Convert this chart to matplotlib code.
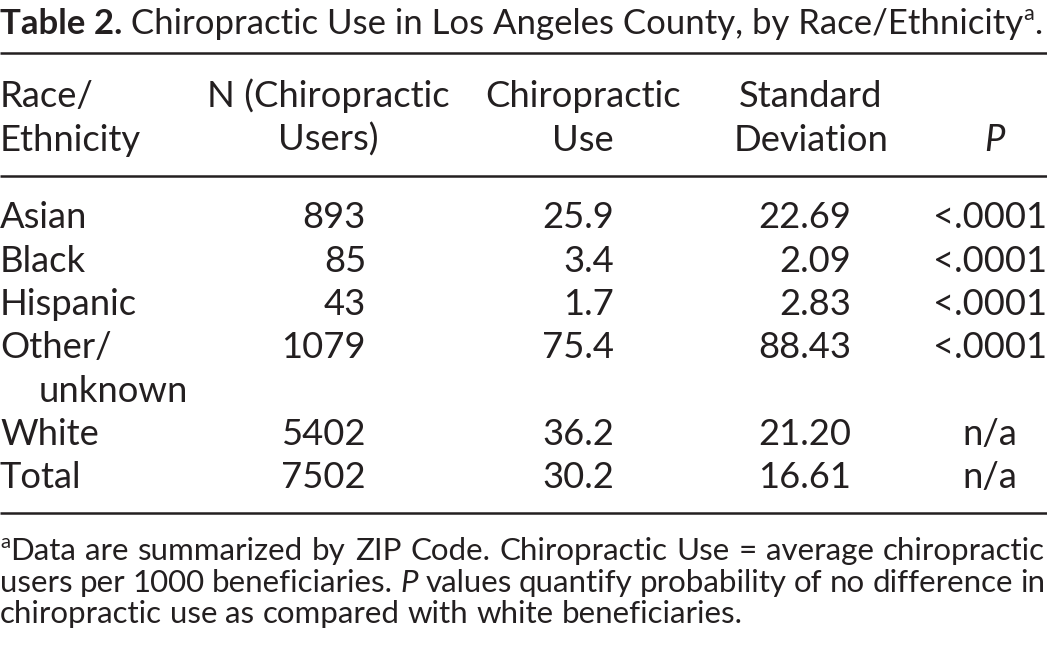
import matplotlib
matplotlib.use('Agg')
import matplotlib.pyplot as plt

# Table content
title_bold = 'Table 2.'
title_rest = ' Chiropractic Use in Los Angeles County, by Race/Ethnicity'
headers = [['Race/', 'Ethnicity'], ['N (Chiropractic', 'Users)'], ['Chiropractic', 'Use'],
           ['Standard', 'Deviation'], ['P']]
groups = [['Asian'], ['Black'], ['Hispanic'], ['Other/', 'unknown'], ['White'], ['Total']]
n_users = ['893', '85', '43', '1079', '5402', '7502']
chiro_use = ['25.9', '3.4', '1.7', '75.4', '36.2', '30.2']
std_dev = ['22.69', '2.09', '2.83', '88.43', '21.20', '16.61']
p_values = ['<.0001', '<.0001', '<.0001', '<.0001', 'n/a', 'n/a']
footnote = [
    [('a', 'sup'), ('Data are summarized by ZIP Code. Chiropractic Use = average chiropractic', 'n')],
    [('users per 1000 beneficiaries. ', 'n'), ('P', 'i'), (' values quantify probability of no difference in', 'n')],
    [('chiropractic use as compared with white beneficiaries.', 'n')],
]

FONT = 'Lato'
INK = '#231f20'
W, H = 1047, 651

fig = plt.figure(figsize=(W / 100, H / 100), dpi=100)
ax = fig.add_axes([0, 0, 1, 1])
ax.set_xlim(0, W)
ax.set_ylim(H, 0)
ax.axis('off')
renderer = fig.canvas.get_renderer()


def width_of(txt, size, style='normal', weight='normal'):
    t = ax.text(0, 0, txt, fontsize=size, family=FONT, style=style, weight=weight)
    w = t.get_window_extent(renderer).width
    t.remove()
    return w


def fit_size(txt, target, style='normal', weight='normal'):
    return 20 * target / width_of(txt, 20, style, weight)


def put(x, y, txt, size, ha='left', style='normal', weight='normal'):
    t = ax.text(x, y, txt, fontsize=size, family=FONT, style=style, weight=weight,
                ha=ha, va='baseline', color=INK)
    return t.get_window_extent(renderer).width


def seg_kw(st):
    return {'style': 'italic' if st == 'i' else 'normal',
            'weight': 'bold' if st == 'b' else 'normal'}


def draw_line(x, y, runs, size, justify_to=None):
    # split runs into words, each word a list of segments
    words = [[]]
    for txt, st in runs:
        parts = txt.split(' ')
        for i, p in enumerate(parts):
            if i > 0:
                words.append([])
            if p:
                words[-1].append((p, st))
    words = [w for w in words if w]
    space = width_of('x x', size) - width_of('xx', size)
    ww = []
    for w in words:
        tot = 0
        for p, st in w:
            s = size * 0.65 if st == 'sup' else size
            tot += width_of(p, s, **seg_kw(st))
        ww.append(tot)
    if justify_to is not None and len(words) > 1:
        space = (justify_to - x - sum(ww)) / (len(words) - 1)
    cx = x
    for w, wd in zip(words, ww):
        for p, st in w:
            if st == 'sup':
                cx += put(cx, y - size * 0.55, p, size * 0.65)
            else:
                cx += put(cx, y, p, size, **seg_kw(st))
        cx += space


# title, sized so the whole line runs to the right edge
w20 = (width_of(title_bold, 20, weight='bold') + width_of(title_rest, 20)
       + width_of('a', 20 * 0.62) + width_of('.', 20))
title_size = 20 * 1043 / w20
tx = 0
tx += put(tx, 34, title_bold, title_size, weight='bold')
tx += put(tx, 34, title_rest, title_size)
tx += put(tx, 34 - title_size * 0.55, 'a', title_size * 0.62)
put(tx, 34, '.', title_size)

# rules
for yy in [53, 176, 513]:
    ax.plot([0, W], [yy, yy], color=INK, lw=1.8, solid_capstyle='butt')

body = fit_size('N (Chiropractic', 243)

# header
head_centers = [None, 328, 583, 811, 994]
head_base = [107, 151]
for c, lines in enumerate(headers):
    rows = head_base if len(lines) == 2 else head_base[1:]
    for yy, txt in zip(rows, lines):
        if c == 0:
            put(0, yy, txt, body)
        else:
            put(head_centers[c], yy, txt, body, ha='center',
                style='italic' if txt == 'P' else 'normal')

# body rows
row_base = [228, 272, 315, 358, 445, 488]
for i, g in enumerate(groups):
    y0 = row_base[i]
    put(0, y0, g[0], body)
    if len(g) > 1:
        put(39, y0 + 44, g[1], body)
    put(366, y0, n_users[i], body, ha='right')
    put(614, y0, chiro_use[i], body, ha='right')
    put(851, y0, std_dev[i], body, ha='right')
    put(990, y0, p_values[i], body, ha='center')

# footnote: largest size where the first line still fits with normal spacing
line1 = 'aData are summarized by ZIP Code. Chiropractic Use = average chiropractic'
foot = fit_size(line1, 1040)
foot_base = [560, 592, 623]
for k, runs in enumerate(footnote):
    draw_line(0, foot_base[k], runs, foot, justify_to=W - 2 if k < 2 else None)

fig.savefig('out.png', dpi=100, facecolor='white')
